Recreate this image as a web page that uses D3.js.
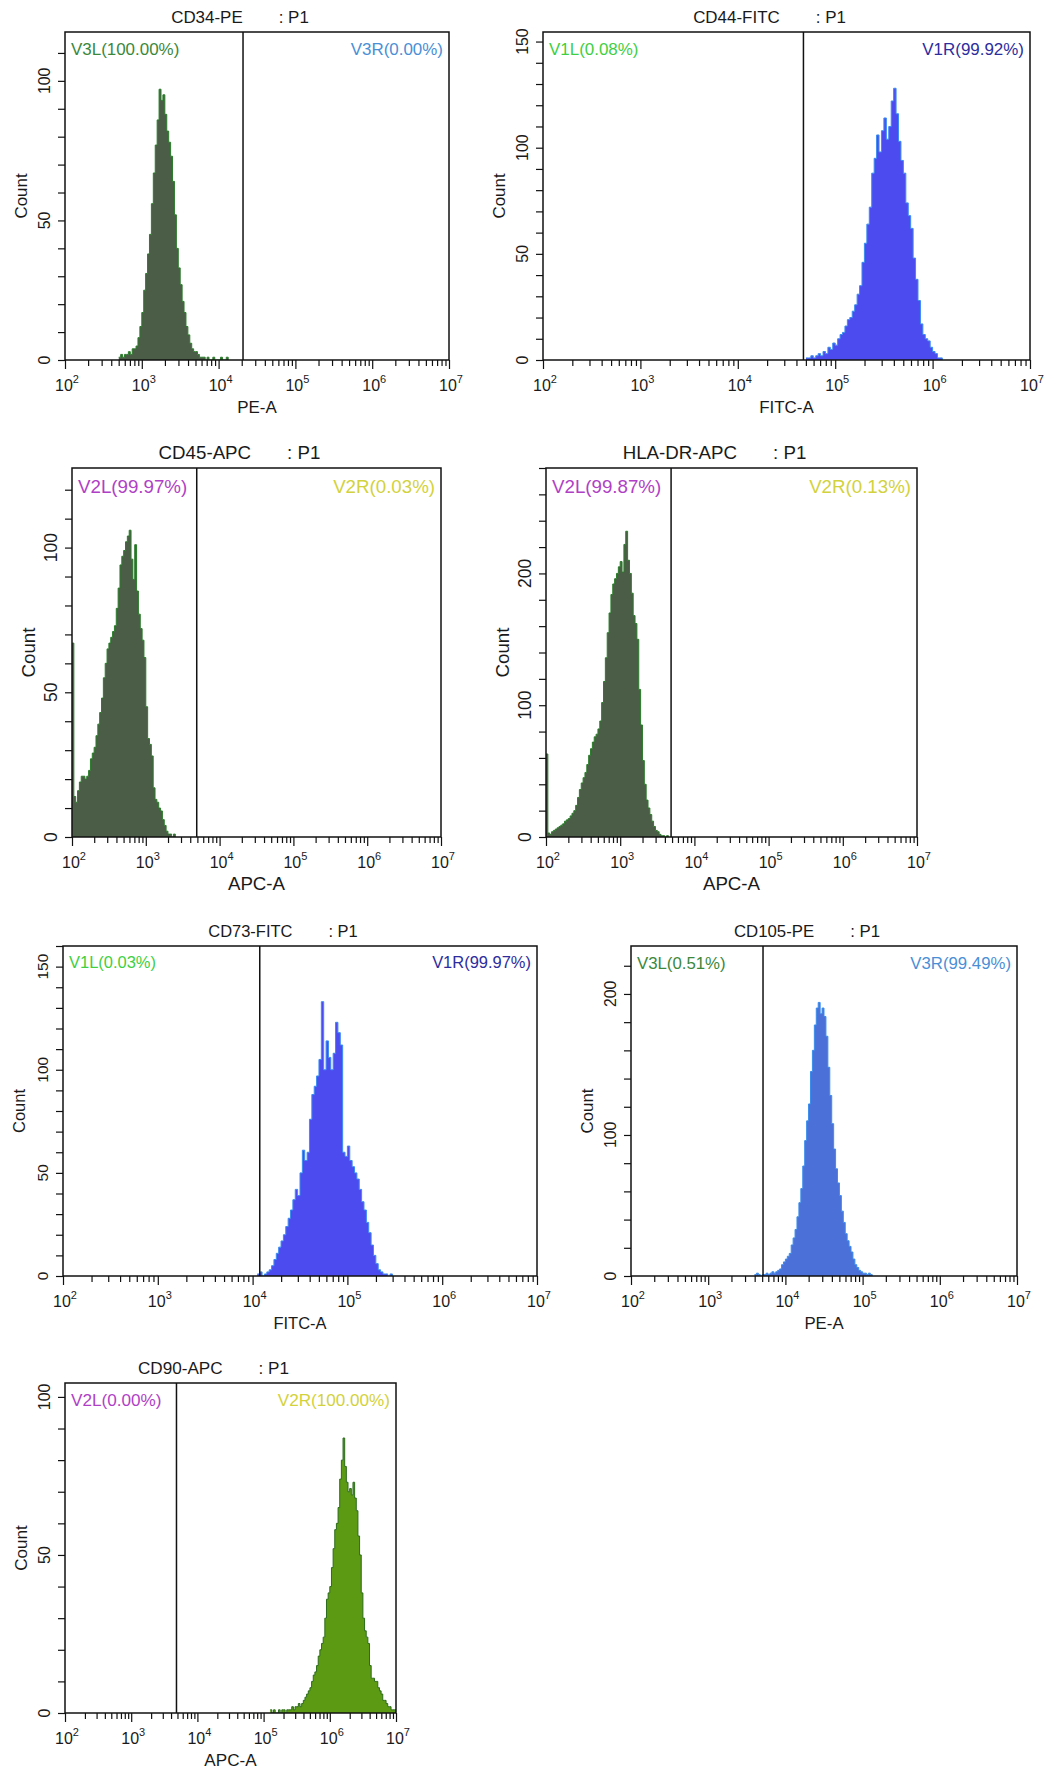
<!DOCTYPE html>
<html><head><meta charset="utf-8">
<script src="https://cdn.jsdelivr.net/npm/d3@7/dist/d3.min.js"></script>
<style>
body{margin:0;background:#fff}
svg{display:block}
text{font-family:"Liberation Sans",Arial,sans-serif;fill:#1a1a1a}
</style>
</head><body>
<svg id="c" width="1049" height="1769"></svg>
<script>
// ---------- data ----------
const markers = ["CD34-PE","CD44-FITC","CD45-APC","HLA-DR-APC","CD73-FITC","CD105-PE","CD90-APC"];
const popName = ": P1";
const xTitles = ["PE-A","FITC-A","APC-A","APC-A","FITC-A","PE-A","APC-A"];
const gateValues = [20800,47200,4900,4850,11900,5130,4830];
const leftLabels = ["V3L(100.00%)","V1L(0.08%)","V2L(99.97%)","V2L(99.87%)","V1L(0.03%)","V3L(0.51%)","V2L(0.00%)"];
const rightLabels = ["V3R(0.00%)","V1R(99.92%)","V2R(0.03%)","V2R(0.13%)","V1R(99.97%)","V3R(99.49%)","V2R(100.00%)"];
const yMax = [117.5,154.5,127.5,280,160,234,104.4];
const yMinorStep = [10,10,10,20,10,20,10];
const yLabelTicks = [[0,50,100],[0,50,100,150],[0,50,100],[0,100,200],[0,50,100,150],[0,100,200],[0,50,100]];
const xDecades = [2,3,4,5,6,7];
const binStep = 0.025;              // width of one bin, in decades
const histStart = [2.70,4.70,2.00,2.00,4.05,3.60,5.10]; // log10 of first bin

const cd34Counts = [1,2,1,2,2,3,2,4,4,5,8,12,17,25,31,38,45,56,67,77,86,97,93,95,88,82,78,73,64,52,40,33,27,21,17,12,9,6,4,3,3,2,1,1,1,0,1,0,0,1,0,0,0,1,0,0,1];
const cd44Counts = [1,1,2,1,2,3,2,4,3,6,5,8,7,10,12,13,16,19,20,23,26,31,35,46,55,64,72,88,95,106,98,108,114,104,110,122,128,116,103,94,88,74,68,62,48,38,28,17,12,10,9,6,4,3,1,1];
const cd45Counts = [67,14,12,16,19,21,21,20,21,23,27,29,31,35,39,43,48,55,60,65,67,69,71,73,79,86,94,97,99,102,104,106,96,89,101,85,77,72,68,62,45,34,32,28,17,13,12,10,9,6,4,2,1,1,0,1];
const hladrCounts = [63,3,2,4,5,6,7,8,9,10,12,13,14,16,18,20,24,30,36,41,45,49,55,62,67,72,76,78,82,88,102,118,136,155,170,184,192,196,200,205,209,201,222,232,210,200,185,168,162,150,112,85,58,40,28,22,17,12,8,5,4,2,1,1,0,1];
const cd73Counts = [1,2,0,1,2,3,5,8,11,14,17,20,24,28,32,37,42,39,50,61,56,60,76,88,92,97,105,133,100,114,106,100,108,123,118,112,60,58,63,56,53,50,47,42,36,32,26,21,15,10,6,3,2,1,1,0,1];
const cd105Counts = [1,2,1,0,1,1,2,1,2,3,2,3,4,5,8,10,12,14,16,22,27,33,42,52,62,78,96,110,122,145,160,178,190,194,186,190,184,170,148,128,108,90,76,66,57,46,38,30,25,21,17,12,8,6,4,3,2,2,1,2,1];
const cd90Counts = [1,0,1,0,0,1,0,1,1,0,1,1,1,2,1,2,2,3,2,3,4,5,6,7,8,10,12,13,15,18,20,22,24,30,36,38,40,46,52,58,60,65,74,80,87,78,73,70,71,69,73,68,64,56,50,38,30,26,24,22,15,11,11,10,10,8,7,6,4,4,3,2,2,1,1,1];
const histCounts = [cd34Counts,cd44Counts,cd45Counts,hladrCounts,cd73Counts,cd105Counts,cd90Counts];

// ---------- styling / layout ----------
const layout = [
  {l:65,  r:449,  t:32,   b:360},
  {l:543, r:1030, t:32,   b:360},
  {l:72,  r:441,  t:468,  b:837},
  {l:546, r:917,  t:468,  b:837},
  {l:63,  r:537,  t:946,  b:1276},
  {l:631, r:1017, t:946,  b:1276},
  {l:65,  r:396,  t:1383, b:1713}
];
const textScale = [1.06,1.06,1.17,1.17,1.03,1.05,1.07];
const fills = [
  {fill:"#4b5c47", stroke:"#2a7d2a"},
  {fill:"#4c4bef", stroke:"#3b8cf0"},
  {fill:"#4b5c47", stroke:"#2a7d2a"},
  {fill:"#4b5c47", stroke:"#2a7d2a"},
  {fill:"#4c4bef", stroke:"#3b8cf0"},
  {fill:"#4b70d8", stroke:"#3a8ded"},
  {fill:"#5c9a14", stroke:"#2c6c1c"}
];
const gateColor = {V1L:"#3fcf3f", V1R:"#2d2d9e", V2L:"#b03fc6", V2R:"#d2d23c", V3L:"#3b883b", V3R:"#4a8fd6"};

const svg = d3.select("#c");
const defs = svg.append("defs");

markers.forEach((name, i) => {
  const L = layout[i];
  const s = textScale[i];
  const g = svg.append("g");
  const x = d3.scaleLog().domain([1e2, 1e7]).range([L.l, L.r]);
  const y = d3.scaleLinear().domain([0, yMax[i]]).range([L.b, L.t]);

  defs.append("clipPath").attr("id", "clip" + i)
    .append("rect").attr("x", L.l).attr("y", L.t).attr("width", L.r - L.l).attr("height", L.b - L.t);

  // histogram
  const counts = histCounts[i];
  const pts = counts.map((c, k) => ({v: Math.pow(10, histStart[i] + k * binStep), c}));
  pts.push({v: Math.pow(10, histStart[i] + counts.length * binStep), c: 0});
  const area = d3.area().x(d => x(d.v)).y0(y(0)).y1(d => y(d.c)).curve(d3.curveStepAfter);
  const line = d3.line().x(d => x(d.v)).y(d => y(d.c)).curve(d3.curveStepAfter);
  const hg = g.append("g").attr("clip-path", `url(#clip${i})`);
  hg.append("path").datum(pts).attr("d", area).attr("fill", fills[i].fill);
  hg.append("path").datum(pts).attr("d", line).attr("fill", "none")
    .attr("stroke", fills[i].stroke).attr("stroke-width", 1);

  // x axis
  const majors = xDecades.map(k => Math.pow(10, k));
  const minors = [];
  xDecades.slice(0, -1).forEach(k => { for (let m = 2; m <= 9; m++) minors.push(m * Math.pow(10, k)); });
  const xa1 = g.append("g").attr("transform", `translate(0,${L.b})`)
    .call(d3.axisBottom(x).tickValues(minors).tickSize(6).tickSizeOuter(0).tickFormat(""));
  const xa2 = g.append("g").attr("transform", `translate(0,${L.b})`)
    .call(d3.axisBottom(x).tickValues(majors).tickSize(9).tickSizeOuter(0).tickFormat(""));
  [xa1, xa2].forEach(a => { a.select(".domain").remove(); a.selectAll("line").attr("stroke", "#111").attr("stroke-width", 1.2); });
  majors.forEach((v, k) => {
    const t = g.append("text").attr("x", x(v) + 2).attr("y", L.b + 31).attr("text-anchor", "middle").attr("font-size", 16);
    t.append("tspan").text("10");
    t.append("tspan").attr("dy", -8).attr("font-size", 11).text(xDecades[k]);
  });
  g.append("text").attr("x", (L.l + L.r) / 2).attr("y", L.b + 53).attr("text-anchor", "middle")
    .attr("font-size", 16 * s).text(xTitles[i]);

  // y axis
  const yt = d3.range(0, yMax[i] + 1e-6, yMinorStep[i]);
  const ya = g.append("g").attr("transform", `translate(${L.l},0)`)
    .call(d3.axisLeft(y).tickValues(yt).tickSize(7).tickSizeOuter(0).tickFormat(""));
  ya.select(".domain").remove();
  ya.selectAll("line").attr("stroke", "#111").attr("stroke-width", 1.2);
  yLabelTicks[i].forEach(v => {
    g.append("text").attr("transform", `translate(${L.l - 21},${y(v)}) rotate(-90)`)
      .attr("text-anchor", "middle").attr("dy", "0.36em").attr("font-size", 15 * s).text(v);
  });
  g.append("text").attr("transform", `translate(${L.l - 44},${(L.t + L.b) / 2}) rotate(-90)`)
    .attr("text-anchor", "middle").attr("dy", "0.36em").attr("font-size", 16 * s).text("Count");

  // frame + gate
  g.append("rect").attr("x", L.l).attr("y", L.t).attr("width", L.r - L.l).attr("height", L.b - L.t)
    .attr("fill", "none").attr("stroke", "#111").attr("stroke-width", 1.5);
  g.append("line").attr("x1", x(gateValues[i])).attr("x2", x(gateValues[i]))
    .attr("y1", L.t).attr("y2", L.b).attr("stroke", "#111").attr("stroke-width", 1.5);

  // gate labels
  const gy = L.t + 6 + 16 * s;
  g.append("text").attr("x", L.l + 6).attr("y", gy).attr("font-size", 16 * s)
    .style("fill", gateColor[leftLabels[i].slice(0, 3)]).text(leftLabels[i]);
  g.append("text").attr("x", L.r - 6).attr("y", gy).attr("font-size", 16 * s).attr("text-anchor", "end")
    .style("fill", gateColor[rightLabels[i].slice(0, 3)]).text(rightLabels[i]);

  // title
  const c = (L.l + L.r) / 2;
  const tn = g.append("text").attr("y", L.t - 9).attr("font-size", 16 * s).text(name);
  const tp = g.append("text").attr("y", L.t - 9).attr("font-size", 16 * s).text(popName);
  const wn = tn.node().getComputedTextLength();
  const wp = tp.node().getComputedTextLength();
  const start = c - (wn + 36 + wp) / 2 - 17;
  tn.attr("x", start);
  tp.attr("x", start + wn + 36);
});
</script>
</body></html>
